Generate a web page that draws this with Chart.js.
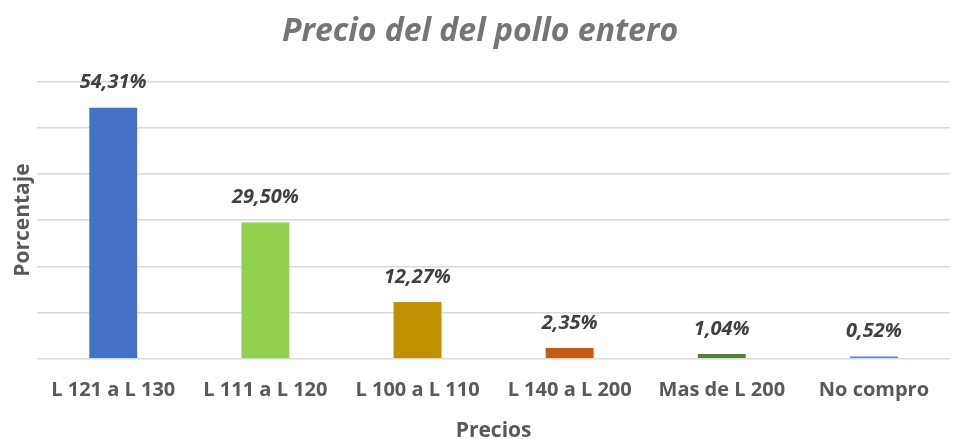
<!DOCTYPE html>
<html>
<head>
<meta charset="utf-8">
<script src="https://cdn.jsdelivr.net/npm/chart.js@4/dist/chart.umd.min.js"></script>
<style>
  html, body { margin: 0; padding: 0; background: #fff; }
  #wrap { width: 960px; height: 439px; }
</style>
</head>
<body>
<div id="wrap"><canvas id="priceChart" width="960" height="439"></canvas></div>
<script>
const categories = ["L 121 a L 130", "L 111 a L 120", "L 100 a L 110", "L 140 a L 200", "Mas de L 200", "No compro"];
const percentages = [54.31, 29.50, 12.27, 2.35, 1.04, 0.52];
const valueLabels = ["54,31%", "29,50%", "12,27%", "2,35%", "1,04%", "0,52%"];
const barColors = ["#4472C4", "#92D050", "#BF9000", "#C55A11", "#548235", "#5B86D6"];

const fontFamily = "'Open Sans', sans-serif";

// Draw the value labels above each bar
const valueLabelPlugin = {
  id: 'valueLabels',
  afterDatasetsDraw(chart) {
    const ctx = chart.ctx;
    const meta = chart.getDatasetMeta(0);
    ctx.save();
    ctx.font = `italic bold 20px ${fontFamily}`;
    ctx.fillStyle = '#404040';
    ctx.textAlign = 'center';
    ctx.textBaseline = 'middle';
    meta.data.forEach((bar, i) => {
      ctx.fillText(valueLabels[i], bar.x, bar.y - 25);
    });
    ctx.restore();
  }
};

const canvas = document.getElementById('priceChart');

const config = {
  type: 'bar',
  data: {
    labels: categories,
    datasets: [{
      data: percentages,
      backgroundColor: barColors,
      barPercentage: 0.63,
      categoryPercentage: 0.5
    }]
  },
  options: {
    responsive: false,
    animation: false,
    layout: { padding: { left: 10, right: 10, top: 0, bottom: 0 } },
    plugins: {
      legend: { display: false },
      tooltip: { enabled: false },
      title: {
        display: true,
        text: 'Precio del del pollo entero',
        color: '#757575',
        font: { family: fontFamily, size: 32, style: 'italic', weight: 'bold' },
        padding: { top: 13, bottom: 30 }
      }
    },
    scales: {
      x: {
        grid: { display: false },
        border: { display: false },
        ticks: {
          color: '#595959',
          font: { family: fontFamily, size: 20, weight: 'bold' },
          padding: 11,
          maxRotation: 0
        },
        title: {
          display: true,
          text: 'Precios',
          color: '#595959',
          font: { family: fontFamily, size: 21, weight: 'bold' },
          padding: { top: 6, bottom: -5 }
        }
      },
      y: {
        min: 0,
        max: 60,
        ticks: { display: false, stepSize: 10 },
        grid: { color: '#D9D9D9', lineWidth: 1.5, drawTicks: false },
        border: { display: false },
        title: {
          display: true,
          text: 'Porcentaje',
          color: '#595959',
          font: { family: fontFamily, size: 21, weight: 'bold' },
          padding: { top: 0, bottom: 2 }
        }
      }
    }
  },
  plugins: [valueLabelPlugin]
};

const priceChart = new Chart(canvas, config);
</script>
</body>
</html>
